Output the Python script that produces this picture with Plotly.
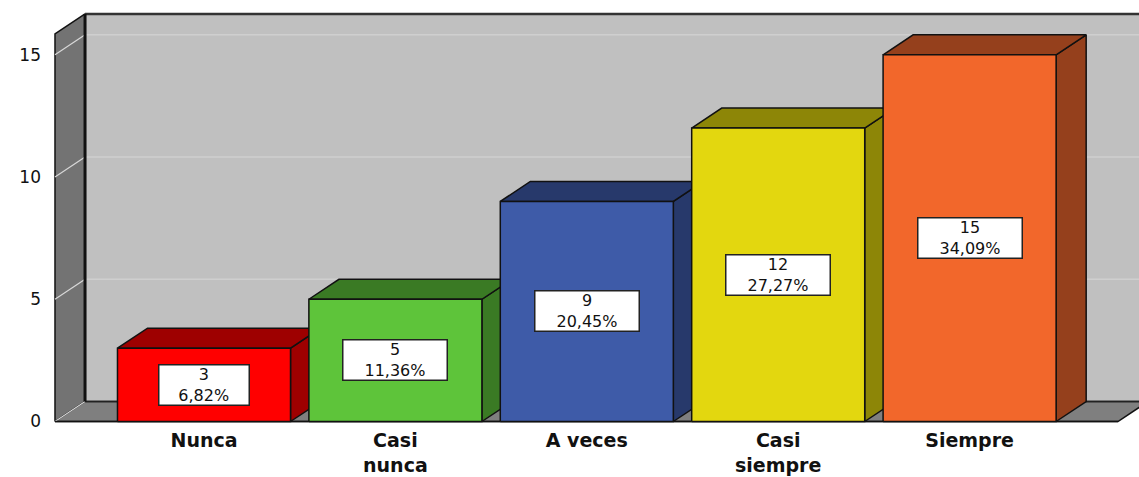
import plotly.graph_objects as go

# ---- data ----
categories = ["Nunca", "Casi<br>nunca", "A veces", "Casi<br>siempre", "Siempre"]
counts = [3, 5, 9, 12, 15]
y_ticks = [0, 5, 10, 15]

# ---- styles ----
front_colors = ["#FF0000", "#5EC43A", "#3E5BA8", "#E3D70F", "#F2672B"]
dark_colors = ["#9E0000", "#3A7A24", "#27396B", "#8D8607", "#95401C"]

total = sum(counts)
pcts = [f"{c / total * 100:.2f}%".replace(".", ",") for c in counts]

# geometry (axis units)
W = 0.452          # half bar width
DX = 0.157         # depth offset x
DY = 0.818         # depth offset y
X_FL = -0.7785     # front-left of wall
X_FR = 4.775       # front-right of floor
TOP = 15.85        # front top of wall
X_BL = X_FL + DX
X_BR = 5.2

fig = go.Figure()

def poly(xs, ys, fill, line="#000000", lw=1.5):
    fig.add_trace(go.Scatter(
        x=xs + [xs[0]], y=ys + [ys[0]], mode="lines", fill="toself",
        fillcolor=fill, line=dict(color=line, width=lw),
        hoverinfo="skip", showlegend=False))

def seg(xs, ys, color, lw):
    fig.add_trace(go.Scatter(x=xs, y=ys, mode="lines",
                             line=dict(color=color, width=lw),
                             hoverinfo="skip", showlegend=False))

# back wall
poly([X_BL, X_BR, X_BR, X_BL], [DY, DY, TOP + DY, TOP + DY], "#C0C0C0", "#C0C0C0", 0.1)
# left wall
poly([X_FL, X_BL, X_BL, X_FL], [0, DY, TOP + DY, TOP], "#737373", "#111111", 1.5)
# floor
poly([X_FL, X_FR, X_FR + DX, X_BL], [0, 0, DY, DY], "#7F7F7F", "#111111", 1.5)

# gridlines
for t in y_ticks:
    if t > 0:
        seg([X_BL, X_BR], [t + DY, t + DY], "#CFCFCF", 1.5)
    seg([X_FL, X_BL], [t, t + DY], "#D8D8D8", 1.2)

# wall edges
seg([X_BL, X_BR], [TOP + DY, TOP + DY], "#333333", 2.5)
seg([X_BL, X_BR], [DY, DY], "#222222", 1.5)
seg([X_BL, X_BL], [DY, TOP + DY], "#111111", 3)
seg([X_FL, X_FR], [0, 0], "#111111", 1.5)

# bars
for i, v in enumerate(counts):
    x0, x1 = i - W, i + W
    poly([x1, x1 + DX, x1 + DX, x1], [0, DY, v + DY, v], dark_colors[i], "#111111", 1.5)
    poly([x0, x1, x1 + DX, x0 + DX], [v, v, v + DY, v + DY], dark_colors[i], "#111111", 1.5)
    poly([x0, x1, x1, x0], [0, 0, v, v], front_colors[i], "#111111", 1.5)

# value labels
for i, v in enumerate(counts):
    fig.add_annotation(
        x=i, y=v / 2, xref="x", yref="y", showarrow=False,
        text=f"{v}<br>{pcts[i]}", align="center",
        font=dict(family="DejaVu Sans", size=16, color="#111111"),
        bgcolor="#FFFFFF", bordercolor="#222222", borderwidth=1.5,
        width=14.5 * len(pcts[i]) + 14, height=37, borderpad=1)

fig.update_xaxes(range=[-0.815, 4.885], tickvals=list(range(len(categories))),
                 ticktext=categories, showgrid=False, zeroline=False,
                 showline=False, ticks="", automargin=False, ticklabelstandoff=0,
                 tickfont=dict(family="DejaVu Sans", size=19, color="#111111", weight="bold"),
                 fixedrange=True)
fig.update_yaxes(range=[-0.225, 17.24], tickvals=y_ticks, showgrid=False,
                 zeroline=False, showline=False, ticks="", ticklabelstandoff=6,
                 automargin=False,
                 tickfont=dict(family="DejaVu Sans", size=17, color="#111111"),
                 fixedrange=True)

fig.update_layout(width=1139, height=477, margin=dict(l=48, r=0, t=0, b=50),
                  paper_bgcolor="#FFFFFF", plot_bgcolor="#FFFFFF",
                  showlegend=False)

fig.write_html("out.html", config={"displayModeBar": False})
